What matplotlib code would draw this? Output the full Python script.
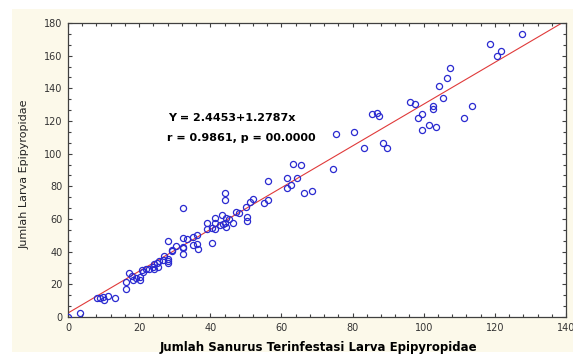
import matplotlib
matplotlib.use('Agg')
import matplotlib.pyplot as plt
from matplotlib.patches import Rectangle
from matplotlib.ticker import MultipleLocator

# Jumlah Sanurus terinfestasi (x) vs jumlah larva Epipyropidae (y)
sanurus = [0, 3.4, 8.2, 9.0, 9.7, 10.2, 11.3, 13.2,
           16.3, 16.3, 17.1, 17.9, 18.2, 19.0, 20.2, 20.2, 20.7, 21.2, 21.9, 22.9,
           23.8, 24.2, 24.2, 24.9, 25.2, 25.7, 26.8, 27.1, 28.0, 28.0, 28.2, 28.2,
           29.1, 29.3, 30.4, 32.2, 32.2, 32.2, 32.4, 32.4, 33.4, 35.2, 35.2, 36.2,
           36.2, 36.6,
           39.2, 39.0, 40.4, 41.3, 41.3, 41.3, 42.7, 43.6, 43.2, 44.1, 44.4, 44.4,
           45.3, 46.3, 40.4, 44.1, 44.1, 47.2, 48.2, 50.0, 50.2, 50.2, 51.2, 52.1,
           55.1, 56.3, 56.3, 61.5, 62.6, 61.6, 64.5, 66.4, 68.5,
           63.3, 65.4, 74.4, 75.3, 80.4, 83.3, 85.4, 86.8, 87.5, 88.6, 89.6, 96.1,
           97.6, 98.5, 99.4, 99.4, 101.5, 102.5, 102.5, 103.5, 104.4, 105.3, 106.5,
           107.4, 111.3, 113.7, 118.6, 120.7, 121.6, 127.5]
larva = [0, 2.3, 11.4, 11.4, 12.4, 10.4, 13.1, 11.4,
         17.1, 21.2, 26.9, 25.1, 22.7, 24.1, 22.7, 24.3, 28.8, 27.8, 29.4, 29.4,
         30.8, 29.4, 32.5, 33.3, 30.8, 34.5, 34.9, 37.5, 32.9, 34.3, 35.3, 46.5,
         41.0, 40.4, 43.5, 66.5, 42.7, 38.4, 48.2, 42.1, 47.8, 49.2, 44.1, 50.2,
         44.6, 41.6,
         57.7, 53.7, 54.3, 53.7, 57.3, 60.8, 56.3, 56.8, 62.5, 57.7, 55.3, 60.4,
         59.8, 57.7, 45.5, 75.7, 71.6, 64.5, 63.5, 67.6, 61.4, 59.0, 70.6, 72.3,
         69.6, 71.6, 83.5, 84.9, 80.8, 78.8, 84.9, 75.7, 77.3,
         93.7, 93.1, 90.6, 112.1, 113.1, 103.3, 124.3, 124.7, 123.1, 106.4, 103.3, 131.8,
         130.2, 122.1, 124.3, 114.5, 117.6, 129.2, 127.1, 116.2, 141.5, 134.3, 146.2,
         152.7, 122.1, 129.2, 167.2, 159.8, 163.1, 173.0]

intercept = 2.4453
slope = 1.2787
line_x = [0, 140]
line_y = [intercept + slope * v for v in line_x]

fig = plt.figure(figsize=(5.73, 3.56), dpi=100)
fig.patch.set_facecolor('white')
# cream panel behind the chart
fig.patches.append(Rectangle((12 / 573, 4 / 356), 561 / 573, 343 / 356,
                             transform=fig.transFigure, facecolor='#fcf9ea',
                             edgecolor='none', zorder=-10))

ax = fig.add_axes([68 / 573, 1 - 317 / 356, 498 / 573, 294 / 356])
ax.set_facecolor('white')

ax.plot(line_x, line_y, color='#e03a3a', lw=0.8, zorder=2)
ax.plot(sanurus, larva, 'o', mfc='none', mec='#2a2ad0', ms=4.4, mew=0.9,
        zorder=3)

ax.set_xlim(0, 140)
ax.set_ylim(0, 180)
ax.xaxis.set_major_locator(MultipleLocator(20))
ax.yaxis.set_major_locator(MultipleLocator(20))
ax.xaxis.set_minor_locator(MultipleLocator(4))
ax.yaxis.set_minor_locator(MultipleLocator(20 / 3))
ax.tick_params(which='both', direction='in', top=True, right=True,
               color='#404040', width=0.8)
ax.tick_params(which='major', length=3, labelsize=7, labelcolor='#333333', pad=4)
ax.tick_params(which='minor', length=2)
for s in ax.spines.values():
    s.set_color('#404040')
    s.set_linewidth(0.9)

ax.text(28.2, 121.9, 'Y = 2.4453+1.2787x', fontsize=8, fontweight='bold',
        va='center', ha='left')
ax.text(27.7, 109.6, 'r = 0.9861, p = 00.0000', fontsize=8, fontweight='bold',
        va='center', ha='left')

fig.text(318 / 573, 1 - 348 / 356, 'Jumlah Sanurus Terinfestasi Larva Epipyropidae',
         fontsize=8.5, fontweight='bold', ha='center', va='center')
fig.text(25 / 573, 1 - 174 / 356, 'Jumlah Larva Epipyropidae', fontsize=8,
         rotation=90, ha='center', va='center', color='#222222')

plt.savefig('out.png', dpi=100, facecolor=fig.get_facecolor())
